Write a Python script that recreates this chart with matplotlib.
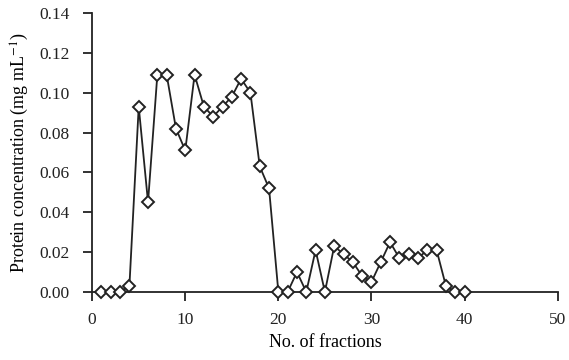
import matplotlib
matplotlib.use("Agg")
import matplotlib.pyplot as plt

fractions = list(range(1, 41))
protein = [0.0, 0.0, 0.0, 0.003, 0.093, 0.045, 0.109, 0.109, 0.082, 0.071,
           0.109, 0.093, 0.088, 0.093, 0.098, 0.107, 0.100, 0.063, 0.052, 0.0,
           0.0, 0.010, 0.0, 0.021, 0.0, 0.023, 0.019, 0.015, 0.008, 0.005,
           0.015, 0.025, 0.017, 0.019, 0.017, 0.021, 0.021, 0.003, 0.0, 0.0]

plt.rcParams['font.family'] = ['Liberation Serif', 'DejaVu Serif']
plt.rcParams['mathtext.fontset'] = 'stix'

fig, ax = plt.subplots(figsize=(5.69, 3.60), dpi=100)
ax.plot(fractions, protein, color='#222222', lw=1.3, marker='D', ms=6.5,
        mfc='white', mec='#222222', mew=1.4, clip_on=False, zorder=3)

ax.set_xlim(0, 50)
ax.set_ylim(0, 0.14)
ax.set_xticks([0, 10, 20, 30, 40, 50])
ax.set_yticks([0, 0.02, 0.04, 0.06, 0.08, 0.10, 0.12, 0.14])
ax.set_yticklabels(['0.00', '0.02', '0.04', '0.06', '0.08', '0.10', '0.12', '0.14'])
ax.spines['top'].set_visible(False)
ax.spines['right'].set_visible(False)
for s in ['left', 'bottom']:
    ax.spines[s].set_linewidth(1.3)
    ax.spines[s].set_color('#222222')
ax.tick_params(axis='both', direction='out', length=6.5, width=1.3,
               colors='#222222', labelsize=12.5)
ax.tick_params(axis='x', pad=8)
ax.tick_params(axis='y', pad=10)
ax.set_xlabel('No. of fractions', fontsize=13, labelpad=4)
ax.set_ylabel('Protein concentration (mg mL$^{-1}$)', fontsize=13, labelpad=6)

fig.subplots_adjust(left=0.162, right=0.98, top=0.964, bottom=0.189)
fig.savefig('out.png', dpi=100)
